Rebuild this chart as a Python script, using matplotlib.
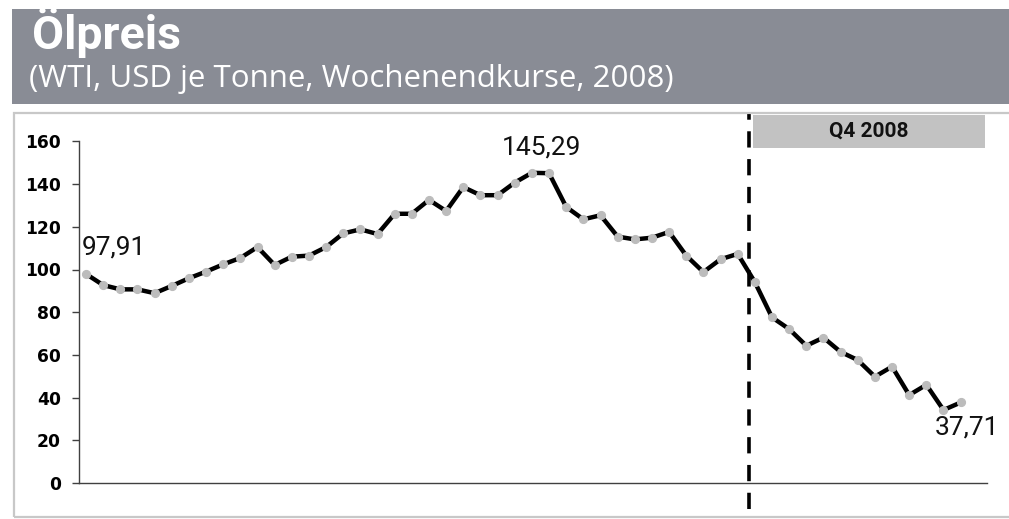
import matplotlib
matplotlib.use("Agg")
import matplotlib.pyplot as plt
from matplotlib.patches import Rectangle

W, H, DPI = 1009, 519, 100

title = "Ölpreis"
subtitle = "(WTI, USD je Tonne, Wochenendkurse, 2008)"
quarter_label = "Q4 2008"
y_ticks = [0, 20, 40, 60, 80, 100, 120, 140, 160]
prices = [97.91, 92.7, 90.7, 90.7, 88.9, 92.3, 95.9, 99.0, 102.4, 105.4,
          110.5, 102.1, 106.0, 106.5, 110.5, 116.9, 118.8, 116.6, 126.1, 126.1,
          132.6, 127.4, 138.6, 134.8, 134.8, 140.7, 145.29, 145.1, 129.3, 123.5,
          125.4, 115.4, 114.1, 114.9, 117.6, 106.5, 98.8, 104.8, 107.3, 94.1,
          77.6, 72.1, 64.3, 68.1, 61.4, 57.6, 49.8, 54.5, 41.2, 46.0,
          34.2, 37.71]
weeks = list(range(len(prices)))
q4_start = 38.68          # boundary between Q3 and Q4 (in week units)
labels = [("97,91", 0), ("145,29", 26), ("37,71", 51)]

def fx(px):
    return px / W

def fy(py):
    return 1 - py / H

fig = plt.figure(figsize=(W / DPI, H / DPI), dpi=DPI)
fig.patch.set_facecolor("white")

# header band
fig.patches.append(Rectangle((fx(12), fy(104)), fx(W) - fx(12) + 0.01, fy(9) - fy(104),
                             transform=fig.transFigure, facecolor="#898c95",
                             edgecolor="none", zorder=0))
fig.text(fx(32), fy(49), title, family=["Roboto", "DejaVu Sans"], weight="bold",
         size=33.5, color="white", va="baseline", ha="left")
fig.text(fx(29), fy(87), subtitle, family=["Open Sans", "DejaVu Sans"],
         size=22.5, color="white", va="baseline", ha="left")

# light frame around chart
fig.patches.append(Rectangle((fx(14), fy(517)), fx(W + 20) - fx(14), fy(113) - fy(517),
                             transform=fig.transFigure, facecolor="none",
                             edgecolor="#c8c8c8", linewidth=1.6, zorder=0))

x0, x1 = 79, 987
ytop, ybot = 141.4, 483
ax = fig.add_axes([fx(x0), fy(ybot), fx(x1) - fx(x0), fy(ytop) - fy(ybot)])
ax.set_facecolor("none")
spacing = 17.15
first_px = 86
ax.set_xlim((x0 - first_px) / spacing, (x1 - first_px) / spacing)
ax.set_ylim(0, 160)

ax.plot(weeks, prices, color="black", lw=3.2, marker="o", ms=5.6,
        mfc="#bcbcbc", mec="#bcbcbc", zorder=3, solid_joinstyle="miter")

for sp in ["top", "right"]:
    ax.spines[sp].set_visible(False)
for sp in ["left", "bottom"]:
    ax.spines[sp].set_color("#404040")
    ax.spines[sp].set_linewidth(1.0)
ax.set_xticks([])
ax.set_yticks(y_ticks)
ax.set_yticklabels([str(t) for t in y_ticks], family="DejaVu Sans",
                   weight="bold", size=12.3)
ax.tick_params(axis="y", length=5, width=1, color="#404040", pad=8)

# dashed Q4 boundary
pxu = 160 / (ybot - ytop)
ax.axvline(q4_start, ymin=(ybot - 509) / (ybot - ytop), ymax=(ybot - 114) / (ybot - ytop),
           color="black", lw=2.6, linestyle=(0, (4.5, 3.2)), clip_on=False, zorder=4)

# Q4 box
bx0 = (753 - first_px) / spacing
bx1 = (985 - first_px) / spacing
by0 = (ybot - 148) * pxu
by1 = (ybot - 115) * pxu
ax.add_patch(Rectangle((bx0, by0), bx1 - bx0, by1 - by0, facecolor="#c2c2c2",
                       edgecolor="none", clip_on=False, zorder=2))
ax.text((bx0 + bx1) / 2, (by0 + by1) / 2, quarter_label, family=["Roboto", "DejaVu Sans"],
        weight="bold", size=15, ha="center", va="center", color="#111111", zorder=3)

# data labels
offsets = {0: ((114 - 86) / spacing, (ybot - 248) * pxu),
           26: ((542 - 86) / spacing, (ybot - 148) * pxu),
           51: ((966.5 - 86) / spacing, (ybot - 427) * pxu)}
for txt, i in labels:
    lx, ly = offsets[i]
    ax.text(lx, ly, txt, family=["Roboto", "DejaVu Sans"], size=19,
            ha="center", va="center", color="#111111", zorder=5)

fig.savefig("out.png", dpi=DPI)
